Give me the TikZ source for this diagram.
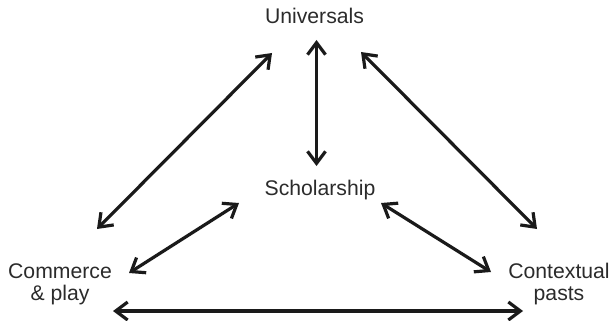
\documentclass[tikz,border=0pt]{standalone}
\usepackage{fontspec}
\setmainfont{Liberation Sans}
\usetikzlibrary{arrows.meta}
\definecolor{txt}{HTML}{2B2B2B}
\definecolor{ln}{HTML}{1A1A1A}
\begin{document}
\begin{tikzpicture}[x=0.5pt,y=-0.5pt,
  lbl/.style={font=\fontsize{10.6}{11}\selectfont, text=txt, align=center, inner sep=0pt},
  tip/.style={Straight Barb[length=6pt,width=9pt,line width=1.6pt]},
  link/.style={line width=1.6pt, draw=ln, {Straight Barb[length=6pt,width=9pt,line width=1.6pt]}-{Straight Barb[length=6pt,width=9pt,line width=1.6pt]}}]
\useasboundingbox (0,0) rectangle (613,320);
\node[lbl] (u) at (314.5,15.5) {Universals};
\node[lbl] (s) at (320,190.5) {Scholarship};
\node[lbl] (c) at (60,284) {Commerce\\\& play};
\node[lbl] (x) at (559,284) {Contextual\\pasts};
% arrow end points
\coordinate (uc1) at (272,53);  \coordinate (uc2) at (97,229);
\coordinate (ux1) at (361,52);  \coordinate (ux2) at (537,229);
\coordinate (us1) at (316.5,40); \coordinate (us2) at (316.5,166);
\coordinate (sc1) at (239,203); \coordinate (sc2) at (129,273);
\coordinate (sx1) at (381,203); \coordinate (sx2) at (491,272);
\coordinate (cx1) at (113,311); \coordinate (cx2) at (523,311);
\draw[link] (uc1) -- (uc2);
\draw[link] (ux1) -- (ux2);
\draw[link] (us1) -- (us2);
\draw[link] (sc1) -- (sc2);
\draw[link] (sx1) -- (sx2);
\draw[link] (cx1) -- (cx2);
\end{tikzpicture}
\end{document}
